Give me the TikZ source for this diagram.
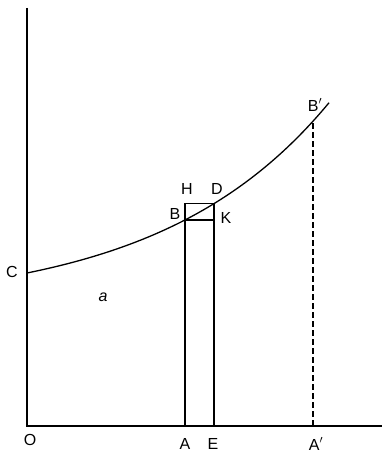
\documentclass[tikz,border=0pt]{standalone}
\usepackage{fontspec}
\setmainfont{Liberation Sans}
\usepackage{tikz}
\usetikzlibrary{positioning, calc}

\begin{document}
\begin{tikzpicture}[x=1pt, y=1pt,
        declare function={f(\t)=179+34.4*(exp(0.0059*(\t-27))-1);},
        axis/.style={line width=2pt, black},
        strip/.style={line width=1.6pt, black},
        curve/.style={line width=1.3pt, black},
        lbl/.style={font=\fontsize{16}{18}\selectfont, inner sep=0pt}]
        \useasboundingbox (0,0) rectangle (382,452);

        % Points
        \coordinate (O) at (27,26);
        \coordinate (ytop) at (27,444);
        \coordinate (xend) at (382,26);
        \coordinate (A) at (185,26);
        \coordinate (E) at (214,26);
        \coordinate (Ap) at (313,26);
        \coordinate (C) at (27,{f(27)});
        \coordinate (B) at (185,{f(185)});
        \coordinate (D) at (214,{f(214)});
        \coordinate (H) at (185,{f(214)});
        \coordinate (K) at (214,{f(185)});
        \coordinate (Bp) at (313,{f(313)});

        % Axes
        \draw[axis] (ytop) -- (O) -- (xend);

        % Curve
        \draw[curve] plot[domain=27:329, samples=80] (\x,{f(\x)});

        % Strip
        \draw[strip] (A) -- (H) -- (D) -- (E);
        \draw[strip] (B) -- (K);

        % Ordinate at A'
        \draw[line width=1.3pt, dash pattern=on 6pt off 3pt] (Ap) -- (Bp);

        % Labels
        \node[lbl] (lO) at (30,12) {O};
        \node[lbl] (lA) at (185,8) {A};
        \node[lbl] (lE) at (213,8) {E};
        \node[lbl] (lAp) at (316,8) {A$'$};
        \node[lbl] (lC) at (12,180) {C};
        \node[lbl] (lB) at (175,238) {B};
        \node[lbl] (lH) at (187,263) {H};
        \node[lbl] (lD) at (217,263) {D};
        \node[lbl] (lK) at (226,234) {K};
        \node[lbl] (lBp) at (315,347) {B$'$};
        \node[lbl] (la) at (103,155) {\itshape a};
    \end{tikzpicture}
\end{document}
